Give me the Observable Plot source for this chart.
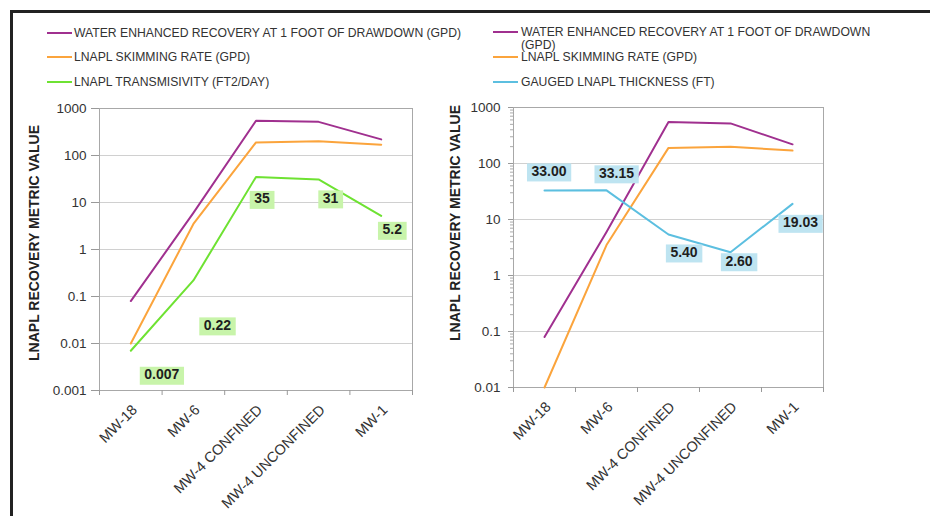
<!DOCTYPE html>
<html><head><meta charset="utf-8">
<script src="https://cdn.jsdelivr.net/npm/d3@7"></script>
<script src="https://cdn.jsdelivr.net/npm/@observablehq/plot@0.6"></script>
<style>
body{margin:0;background:#fff;font-family:"Liberation Sans",Arial,sans-serif;}
#wrap{position:relative;width:930px;height:516px;overflow:hidden;background:#fff;}
#border{position:absolute;left:10px;top:10px;width:940px;height:520px;border-top:3px solid #222;border-left:3px solid #222;}
.svgbox{position:absolute;left:0;top:0;}
.leg{position:absolute;font-size:12.2px;color:#333;line-height:13.5px;white-space:nowrap;}
.sw{position:absolute;height:2px;width:25px;}
</style></head><body>
<div id="wrap"><div id="border"></div></div>
<script>
// ---- data ----
const categories = ["MW-18", "MW-6", "MW-4 CONFINED", "MW-4 UNCONFINED", "MW-1"];
const waterEnhanced = [0.08, 6, 550, 520, 220];     // GPD
const skimming = [0.01, 3.5, 190, 200, 170];         // GPD
const transmissivity = [0.007, 0.22, 35, 31, 5.2];   // FT2/DAY
const thickness = [33.00, 33.15, 5.40, 2.60, 19.03]; // FT
const transmissivityLabels = ["0.007", "0.22", "35", "31", "5.2"];
const thicknessLabels = ["33.00", "33.15", "5.40", "2.60", "19.03"];
const leftYTicks = [0.001, 0.01, 0.1, 1, 10, 100, 1000];
const leftYTickLabels = ["0.001", "0.01", "0.1", "1", "10", "100", "1000"];
const rightYTicks = [0.01, 0.1, 1, 10, 100, 1000];
const rightYTickLabels = ["0.01", "0.1", "1", "10", "100", "1000"];
const leftLegend = ["WATER ENHANCED RECOVERY AT 1 FOOT OF DRAWDOWN (GPD)", "LNAPL SKIMMING RATE (GPD)", "LNAPL TRANSMISIVITY (FT2/DAY)"];
const rightLegend = ["WATER ENHANCED RECOVERY AT 1 FOOT OF DRAWDOWN<br>(GPD)", "LNAPL SKIMMING RATE (GPD)", "GAUGED LNAPL THICKNESS (FT)"];
const yTitle = "LNAPL RECOVERY METRIC VALUE";

// ---- styles ----
const C = {purple: "#a0308f", orange: "#fba43c", green: "#6ee232", blue: "#5cbfe0"};
const leftOffsets = [[31, 24], [24, 45], [6, 22], [12, 19], [11, 14]];
const rightOffsets = [[4.5, -19], [10, -17], [15.5, 18], [8.5, 9], [8, 19]];
const LABEL_FILL = "#1e1e1e";

const rows = (vals, labels) => categories.map((c, i) => ({i, c, v: vals[i], t: labels ? labels[i] : ""}));
const boundaries = categories.map((_, i) => i - 0.5).concat([categories.length - 0.5]);

function panel(o) {
  const marks = [
    Plot.gridY(o.yTicks, {stroke: "#d0d0d0", strokeOpacity: 1}),
    Plot.frame({stroke: "#a8a8a8"}),
    Plot.axisY(o.yTicks, {tickSize: o.tickSize, tickPadding: o.tickPadding, fontSize: 13.5, stroke: "#999", fill: "#333",
      tickFormat: d => o.yTickLabels[o.yTicks.indexOf(d)], label: null}),
  ];
  if (o.minor) {
    const minor = [];
    o.yTicks.slice(0, -1).forEach(d => { for (let k = 2; k < 10; k++) minor.push(d * k); });
    marks.push(Plot.axisY(minor, {tickSize: 3, tickFormat: () => "", stroke: "#aaa", label: null}));
  }
  marks.push(
    Plot.axisX(boundaries, {tickSize: 5, tickFormat: () => "", stroke: "#999", label: null}),
    Plot.text(categories, {x: (d, i) => i, text: d => d, frameAnchor: "bottom", rotate: -45, textAnchor: "end",
      lineAnchor: "middle", dx: 4, dy: 17, fontSize: 14.5, fill: "#333"}),
    Plot.text([yTitle], {frameAnchor: "left", rotate: -90, textAnchor: "middle", lineAnchor: "middle",
      dx: o.titleDx, dy: o.titleDy, fontSize: 14, fontWeight: "bold", fill: "#222"})
  );
  o.series.forEach(s => marks.push(Plot.line(rows(s.values), {x: "i", y: "v", stroke: s.color, strokeWidth: 2})));
  const lr = rows(o.labelValues, o.labels);
  lr.forEach((r, k) => marks.push(Plot.text([r], {x: "i", y: "v", text: "t", dx: o.offsets[k][0], dy: o.offsets[k][1],
    fontSize: 14, fontWeight: "bold", fill: LABEL_FILL, lineAnchor: "middle"})));
  return Plot.plot({
    width: 930, height: 516,
    marginLeft: o.ml, marginRight: o.mr, marginTop: o.mt, marginBottom: o.mb,
    style: {background: "transparent", fontFamily: "Liberation Sans, Arial, sans-serif", overflow: "visible"},
    x: {domain: [-0.5, categories.length - 0.5]},
    y: {type: "log", domain: o.yDomain},
    marks
  });
}

const left = panel({
  ml: 99, mr: 930 - 412, mt: 108, mb: 516 - 390,
  yDomain: [0.001, 1000], yTicks: leftYTicks, yTickLabels: leftYTickLabels, tickSize: 8, tickPadding: 5, minor: false,
  titleDx: -65, titleDy: -6.5,
  series: [{values: waterEnhanced, color: C.purple}, {values: skimming, color: C.orange}, {values: transmissivity, color: C.green}],
  labelValues: transmissivity, labels: transmissivityLabels, offsets: leftOffsets
});
const right = panel({
  ml: 513, mr: 930 - 823, mt: 107, mb: 516 - 387,
  yDomain: [0.01, 1000], yTicks: rightYTicks, yTickLabels: rightYTickLabels, tickSize: 5, tickPadding: 8, minor: true,
  titleDx: -58, titleDy: -24.5,
  series: [{values: waterEnhanced, color: C.purple}, {values: skimming, color: C.orange}, {values: thickness, color: C.blue}],
  labelValues: thickness, labels: thicknessLabels, offsets: rightOffsets
});

const wrap = document.getElementById("wrap");
[[left, "#c8f4aa"], [right, "#bee4f1"]].forEach(([svg, box]) => {
  svg.classList.add("svgbox");
  wrap.appendChild(svg);
  svg.querySelectorAll(`g[fill="${LABEL_FILL}"] text`).forEach(t => {
    const b = t.getBBox();
    const r = document.createElementNS("http://www.w3.org/2000/svg", "rect");
    r.setAttribute("x", b.x - 4.5); r.setAttribute("y", b.y + 0.5);
    r.setAttribute("width", b.width + 9); r.setAttribute("height", b.height + 2);
    r.setAttribute("fill", box);
    if (t.getAttribute("transform")) r.setAttribute("transform", t.getAttribute("transform"));
    t.parentNode.insertBefore(r, t);
  });
});

// ---- legends ----
function legend(items, colors, swX, textX, ys) {
  items.forEach((txt, k) => {
    const sw = document.createElement("div");
    sw.className = "sw"; sw.style.left = swX + "px"; sw.style.top = (ys[k] - 1) + "px"; sw.style.background = colors[k];
    wrap.appendChild(sw);
    const d = document.createElement("div");
    d.className = "leg"; d.style.left = textX + "px"; d.style.top = (ys[k] - 6.4) + "px"; d.innerHTML = txt;
    wrap.appendChild(d);
  });
}
legend(leftLegend, [C.purple, C.orange, C.green], 47, 74, [33, 57, 82]);
legend(rightLegend, [C.purple, C.orange, C.blue], 493, 521, [32, 57, 82]);
</script>
</body></html>
